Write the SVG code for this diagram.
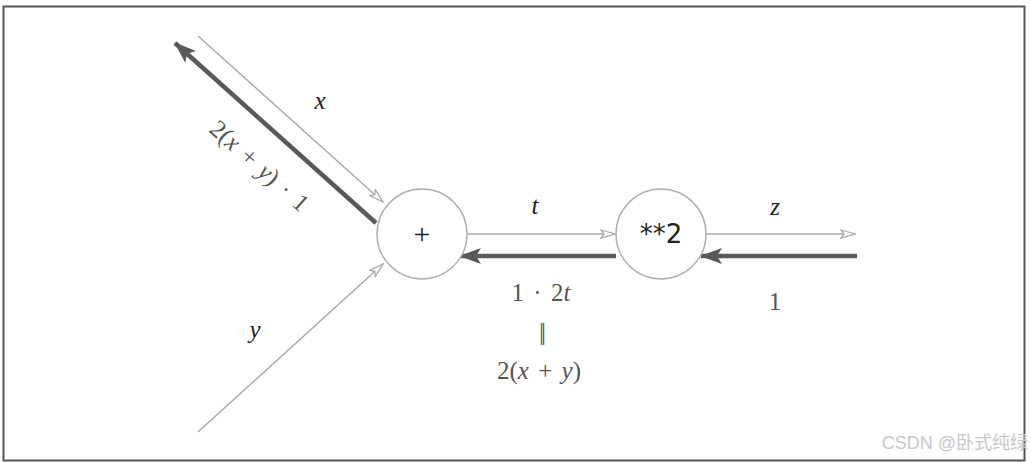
<svg xmlns="http://www.w3.org/2000/svg" width="1031" height="463" viewBox="0 0 1031 463">
<style>
.fwd{stroke:#aaaaaa;stroke-width:1.5;fill:none}
.bwd{stroke:#595959;stroke-width:4.5;fill:none}
.node{fill:#ffffff;stroke:#b0b0b0;stroke-width:1.5}
.m{font-family:"Liberation Serif",serif;font-style:italic;font-size:25px;fill:#222;text-anchor:middle}
.g{font-family:"Liberation Serif",serif;font-size:25px;fill:#555;text-anchor:middle;word-spacing:3px}
.gi{font-style:italic}
</style>
<defs>
<marker id="open" viewBox="0 0 16 10" refX="15" refY="5" markerWidth="16" markerHeight="10" markerUnits="userSpaceOnUse" orient="auto">
<path d="M1,1 L15,5 L1,9 L4,5 Z" fill="#ffffff" stroke="#aaaaaa" stroke-width="1.3"/>
</marker>
<marker id="solid" viewBox="0 0 22 16" refX="21" refY="8" markerWidth="22" markerHeight="16" markerUnits="userSpaceOnUse" orient="auto">
<path d="M0,0 L22,8 L0,16 L5,8 Z" fill="#595959"/>
</marker>
</defs>
<rect x="3.5" y="6.5" width="1021" height="454" fill="#ffffff" stroke="#555555" stroke-width="2"/>
<g id="connectors">
<line class="fwd" x1="198" y1="36" x2="383" y2="202" marker-end="url(#open)"/>
<line class="fwd" x1="198" y1="432" x2="383" y2="264" marker-end="url(#open)"/>
<line class="fwd" x1="467" y1="234" x2="615" y2="234" marker-end="url(#open)"/>
<line class="fwd" x1="706" y1="234" x2="855" y2="234" marker-end="url(#open)"/>
<line class="bwd" x1="376" y1="223" x2="175" y2="43" marker-end="url(#solid)"/>
<line class="bwd" x1="616" y1="256" x2="460" y2="256" marker-end="url(#solid)"/>
<line class="bwd" x1="857" y1="256" x2="701" y2="256" marker-end="url(#solid)"/>
</g>
<g id="node-plus">
<circle class="node" cx="422" cy="234" r="45"/>
<text x="422" y="244" font-family="Liberation Serif,serif" font-size="30" fill="#222" text-anchor="middle">+</text>
</g>
<g id="node-square">
<circle class="node" cx="661" cy="234" r="45"/>
<text x="661" y="243" font-family="DejaVu Sans,sans-serif" font-size="26" fill="#222" text-anchor="middle">**2</text>
</g>
<g id="labels">
<text class="m" x="320" y="109">x</text>
<text class="m" x="255" y="338">y</text>
<text class="m" x="535" y="214">t</text>
<text class="m" x="775" y="215">z</text>
<text class="g" transform="translate(254,172) rotate(41.8)">2(<tspan class="gi">x</tspan> + <tspan class="gi">y</tspan>) · 1</text>
<text class="g" x="541" y="301">1 · 2<tspan class="gi">t</tspan></text>
<text class="g" x="541" y="340" font-size="28" letter-spacing="-3">||</text>
<text class="g" x="539" y="379">2(<tspan class="gi">x</tspan> + <tspan class="gi">y</tspan>)</text>
<text class="g" x="775" y="310">1</text>
</g>
<text x="1028" y="449" font-family="Liberation Sans,Noto Sans CJK SC,sans-serif" font-size="18" fill="#c8c8c8" text-anchor="end">CSDN @卧式纯绿</text>
</svg>
